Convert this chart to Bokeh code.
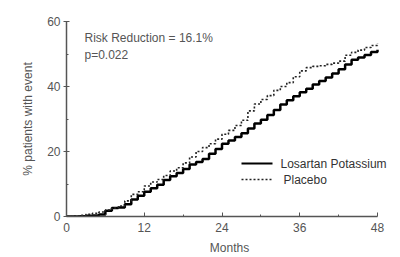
from bokeh.plotting import figure
from bokeh.models import FixedTicker, Label, Arrow
from bokeh.embed import file_html
from bokeh.resources import INLINE

months = list(range(0, 49))
losartan = [0, 0, 0.1, 0.2, 0.3, 0.6, 1.8, 2.6, 2.8, 3.8, 5.2, 6.4, 7.6, 8.7, 9.8, 11.2, 12.4,
            13.4, 14.6, 16.0, 16.8, 17.7, 19.3, 20.8, 22.4, 23.4, 24.5, 25.6, 27.1, 28.6, 29.8,
            31.2, 32.8, 34.5, 35.8, 37.0, 38.2, 39.3, 40.6, 41.7, 42.8, 44.0, 45.3, 46.8, 48.2,
            48.9, 49.7, 50.6, 51.3]
placebo = [0, 0.2, 0.4, 0.7, 1.0, 1.4, 2.0, 2.6, 3.2, 4.8, 6.8, 7.6, 9.4, 10.6, 11.4, 12.6, 14.0,
           15.0, 16.5, 18.3, 20.0, 21.2, 22.4, 23.8, 25.3, 26.5, 28.0, 29.6, 32.5, 34.6, 36.0,
           37.2, 38.8, 40.0, 41.2, 43.0, 44.8, 45.8, 46.2, 46.4, 46.8, 47.2, 47.8, 49.6, 50.5,
           51.2, 52.0, 52.6, 53.3]
x_ticks = [0, 12, 24, 36, 48]
x_minor = [6, 18, 30, 42]
y_ticks = [0, 20, 40, 60]
y_minor = [10, 30, 50]
series_names = ["Losartan Potassium", "Placebo"]

FONT = "Liberation Sans"
GRAY = "#555555"

# frame spans x pixels 66..392; the 0..48 month axis occupies 66..377
x_end = 48 * (392 - 66) / (377 - 66)

p = figure(width=400, height=257, x_range=(0, x_end), y_range=(0, 60),
           output_backend="svg", toolbar_location=None,
           min_border_left=66, min_border_right=8, min_border_top=21, min_border_bottom=41)
p.outline_line_color = None
p.grid.visible = False
p.background_fill_color = "white"

p.step(months, losartan, mode="after", line_color="black", line_width=2.5)
p.step(months, placebo, mode="after", line_color="#222222", line_width=1.6, line_dash="2 2")

for ax, maj, mnr in ((p.xaxis, x_ticks, x_minor), (p.yaxis, y_ticks, y_minor)):
    ax.ticker = FixedTicker(ticks=maj, minor_ticks=mnr)
    ax.axis_line_color = GRAY
    ax.axis_line_width = 1.5
    ax.major_tick_line_color = GRAY
    ax.minor_tick_line_color = GRAY
    ax.major_tick_in = 4
    ax.major_tick_out = 0
    ax.minor_tick_in = 2
    ax.minor_tick_out = 0
    ax.major_label_text_font = FONT
    ax.major_label_text_font_size = "12px"
    ax.major_label_text_color = GRAY
    ax.axis_label_text_font = FONT
    ax.axis_label_text_font_size = "12px"
    ax.axis_label_text_font_style = "normal"
    ax.axis_label_text_color = GRAY

p.yaxis.major_tick_in = 3
p.yaxis.major_tick_out = 3
p.xaxis.bounds = (0, 48)
p.xaxis.axis_label = "Months"
p.yaxis.axis_label = "% patients with event"
p.xaxis.major_label_standoff = 6
p.xaxis.axis_label_standoff = 6
p.yaxis.major_label_standoff = 3
p.yaxis.axis_label_standoff = 9

# annotation text (screen units relative to the frame's bottom-left corner)
p.add_layout(Label(x=18, y=179, x_units="screen", y_units="screen", text="Risk Reduction = 16.1%",
                   text_font=FONT, text_font_size="12px", text_color=GRAY,
                   text_baseline="middle"))
p.add_layout(Label(x=18, y=162, x_units="screen", y_units="screen", text="p=0.022",
                   text_font=FONT, text_font_size="12px", text_color=GRAY,
                   text_baseline="middle"))

# hand-drawn legend
legend_rows = [(53, "black", 2.0, "solid", 214), (37, "#222222", 1.6, "2 2", 217)]
for (yy, col, lw, dash, tx), name in zip(legend_rows, series_names):
    p.add_layout(Arrow(end=None, x_start=175, x_end=206, y_start=yy, y_end=yy,
                       start_units="screen", end_units="screen",
                       line_color=col, line_width=lw, line_dash=dash))
    p.add_layout(Label(x=tx, y=yy, x_units="screen", y_units="screen", text=name,
                       text_font=FONT, text_font_size="12px", text_color="#333333",
                       text_baseline="middle"))

open("out.html", "w").write(file_html(p, INLINE))
